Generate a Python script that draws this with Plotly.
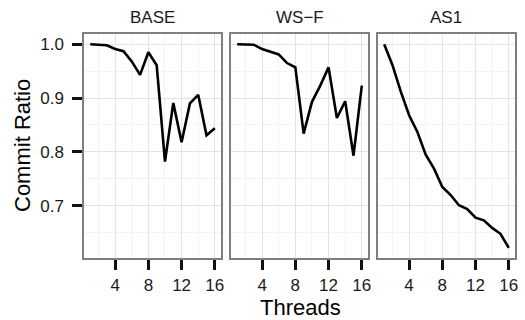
import plotly.graph_objects as go

# Commit ratio per thread count for each scheduling variant
threads = list(range(1, 17))
panels = ["BASE", "WS\u2212F", "AS1"]
base_ratio = [1.000, 0.999, 0.998, 0.991, 0.987, 0.968, 0.943, 0.985,
              0.961, 0.782, 0.891, 0.818, 0.890, 0.906, 0.831, 0.844]
wsf_ratio = [1.000, 1.000, 0.999, 0.991, 0.986, 0.981, 0.965, 0.957,
             0.834, 0.893, 0.923, 0.957, 0.863, 0.894, 0.793, 0.923]
as1_ratio = [1.000, 0.961, 0.912, 0.868, 0.837, 0.795, 0.769, 0.735,
             0.720, 0.701, 0.694, 0.678, 0.673, 0.659, 0.648, 0.622]
x_ticks = [4, 8, 12, 16]
y_ticks = [0.7, 0.8, 0.9, 1.0]
y_tick_text = ["0.7", "0.8", "0.9", "1.0"]

series = [base_ratio, wsf_ratio, as1_ratio]

FONT = "Liberation Sans, Arial, Helvetica, sans-serif"
W, H = 525, 320
ML, MR, MT, MB = 84, 6, 34, 62
plot_w = W - ML - MR
panel_px = 138
gap_px = 10

fig = go.Figure()

all_vals = base_ratio + wsf_ratio + as1_ratio
ymin, ymax = min(all_vals), max(all_vals)
ypad = (ymax - ymin) * 0.05
xpad = (max(threads) - min(threads)) * 0.05
x_range = [min(threads) - xpad, max(threads) + xpad]
y_range = [ymin - ypad, ymax + ypad]

axis_common = dict(
    showline=True, mirror=True, linecolor="#7f7f7f", linewidth=1.5,
    showgrid=True, gridcolor="#e3e3e3", gridwidth=1.3,
    ticks="outside", ticklen=10, tickwidth=2.5, tickcolor="#111111",
    tickfont=dict(family=FONT, size=17, color="#1a1a1a"),
    zeroline=False,
)

layout = {}
for i, (name, vals) in enumerate(zip(panels, series)):
    suffix = "" if i == 0 else str(i + 1)
    fig.add_trace(go.Scatter(
        x=threads, y=vals, mode="lines",
        line=dict(color="black", width=2.6),
        xaxis="x" + suffix, yaxis="y" + suffix, showlegend=False,
    ))
    x0 = i * (panel_px + gap_px) / plot_w
    x1 = min(1.0, (i * (panel_px + gap_px) + panel_px) / plot_w)
    layout["xaxis" + suffix] = dict(
        axis_common, domain=[x0, x1], range=x_range,
        tickvals=x_ticks, anchor="y" + suffix, ticklabelstandoff=1,
        minor=dict(dtick=2, tick0=0, showgrid=True, gridcolor="#f3f3f3",
                   gridwidth=1.1, ticks=""),
    )
    layout["yaxis" + suffix] = dict(
        axis_common, domain=[0, 1], range=y_range,
        tickvals=y_ticks, ticktext=y_tick_text,
        showticklabels=(i == 0), ticks="outside" if i == 0 else "",
        anchor="x" + suffix, ticklabelstandoff=5,
        minor=dict(dtick=0.05, tick0=0, showgrid=True, gridcolor="#f3f3f3",
                   gridwidth=1.1, ticks=""),
    )
    fig.add_annotation(
        text=name, xref="x" + suffix + " domain", yref="paper",
        x=0.5, y=1, yshift=17, xanchor="center", yanchor="middle",
        showarrow=False, font=dict(family=FONT, size=17, color="#1a1a1a"),
    )

fig.add_annotation(
    text="Threads", xref="paper", yref="paper", x=0.5, y=0,
    yshift=-49, xanchor="center", yanchor="middle", showarrow=False,
    font=dict(family=FONT, size=22, color="black"),
)
fig.add_annotation(
    text="Commit Ratio", xref="paper", yref="paper", x=0, y=0.5,
    xshift=-62, xanchor="center", yanchor="middle", textangle=-90,
    showarrow=False, font=dict(family=FONT, size=22, color="black"),
)

fig.update_layout(
    **layout,
    width=W, height=H,
    margin=dict(l=ML, r=MR, t=MT, b=MB),
    paper_bgcolor="white", plot_bgcolor="white",
)

fig.write_html("out.html")
